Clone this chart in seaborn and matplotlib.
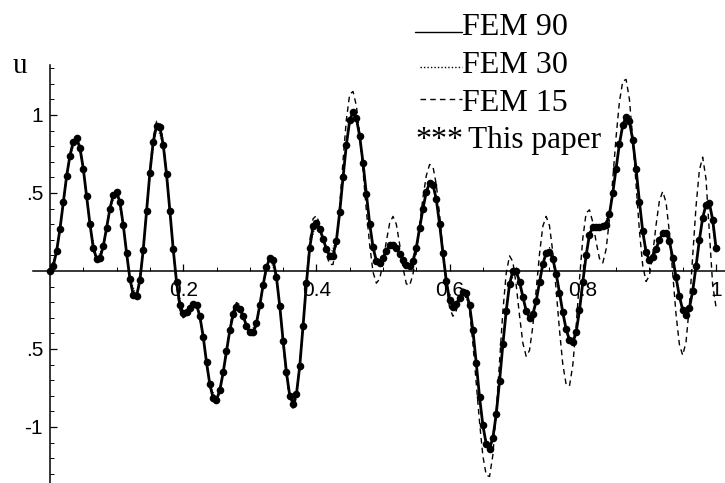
import numpy as np
import matplotlib
matplotlib.use("Agg")
import matplotlib.pyplot as plt
import seaborn as sns
from matplotlib.lines import Line2D
from matplotlib.ticker import FixedLocator, MultipleLocator

# x grids (step 0.005 for the fine solutions, 0.01 for FEM 30)
x_fine = np.round(np.arange(201) * 0.005, 3)
x_coarse = np.round(np.arange(101) * 0.01, 2)

# "This paper" (dots) - FEM 90 lies on top of it
this_paper = [
    0.0, 0.034, 0.13, 0.27, 0.44, 0.61, 0.74, 0.83, 0.85, 0.79,
    0.655, 0.48, 0.30, 0.15, 0.077, 0.083, 0.16, 0.277, 0.40, 0.487,
    0.508, 0.44, 0.295, 0.115, -0.05, -0.152, -0.16, -0.06, 0.137, 0.385,
    0.63, 0.83, 0.93, 0.92, 0.81, 0.62, 0.385, 0.14, -0.07, -0.22,
    -0.27, -0.26, -0.235, -0.214, -0.217, -0.29, -0.42, -0.585, -0.727, -0.815,
    -0.825, -0.766, -0.65, -0.516, -0.38, -0.278, -0.231, -0.243, -0.29, -0.35,
    -0.392, -0.394, -0.333, -0.22, -0.09, 0.023, 0.084, 0.07, -0.04, -0.225,
    -0.447, -0.65, -0.80, -0.85, -0.79, -0.61, -0.35, -0.08, 0.15, 0.287,
    0.307, 0.27, 0.207, 0.14, 0.098, 0.099, 0.195, 0.377, 0.60, 0.81,
    0.965, 1.02, 0.98, 0.864, 0.693, 0.495, 0.304, 0.152, 0.065, 0.053,
    0.083, 0.129, 0.164, 0.168, 0.148, 0.112, 0.072, 0.041, 0.03, 0.061,
    0.15, 0.274, 0.40, 0.507, 0.565, 0.554, 0.46, 0.30, 0.113, -0.062,
    -0.186, -0.23, -0.212, -0.171, -0.137, -0.138, -0.22, -0.38, -0.59, -0.81,
    -0.99, -1.11, -1.138, -1.07, -0.918, -0.706, -0.47, -0.256, -0.084, 0.002,
    -0.002, -0.068, -0.165, -0.255, -0.299, -0.277, -0.193, -0.072, 0.044, 0.117,
    0.125, 0.077, -0.018, -0.139, -0.266, -0.374, -0.442, -0.458, -0.393, -0.253,
    -0.072, 0.10, 0.233, 0.28, 0.285, 0.285, 0.29, 0.296, 0.364, 0.50,
    0.657, 0.815, 0.934, 0.989, 0.959, 0.84, 0.655, 0.445, 0.254, 0.119,
    0.07, 0.09, 0.142, 0.20, 0.243, 0.245, 0.19, 0.086, -0.041, -0.162,
    -0.249, -0.28, -0.24, -0.128, 0.03, 0.197, 0.341, 0.426, 0.435, 0.33,
    0.15,
]
fem90 = this_paper

fem15 = [
    0.0, 0.035, 0.13, 0.27, 0.44, 0.61, 0.745, 0.84, 0.86, 0.80,
    0.66, 0.48, 0.295, 0.14, 0.068, 0.075, 0.155, 0.277, 0.405, 0.495,
    0.518, 0.45, 0.30, 0.115, -0.055, -0.162, -0.17, -0.065, 0.137, 0.395,
    0.65, 0.855, 0.96, 0.95, 0.83, 0.63, 0.385, 0.13, -0.09, -0.25,
    -0.30, -0.285, -0.24, -0.205, -0.21, -0.285, -0.42, -0.59, -0.735, -0.825,
    -0.835, -0.772, -0.648, -0.505, -0.36, -0.255, -0.202, -0.217, -0.28, -0.355,
    -0.41, -0.414, -0.348, -0.228, -0.09, 0.03, 0.094, 0.078, -0.04, -0.235,
    -0.465, -0.675, -0.83, -0.88, -0.812, -0.62, -0.347, -0.058, 0.19, 0.335,
    0.355, 0.30, 0.205, 0.106, 0.042, 0.042, 0.175, 0.42, 0.71, 0.97,
    1.133, 1.151, 1.06, 0.878, 0.643, 0.387, 0.168, -0.006, -0.078, -0.051,
    0.053, 0.191, 0.306, 0.35, 0.30, 0.171, 0.021, -0.082, -0.093, -0.021,
    0.119, 0.295, 0.471, 0.611, 0.683, 0.67, 0.555, 0.362, 0.13, -0.084,
    -0.236, -0.29, -0.254, -0.175, -0.116, -0.131, -0.253, -0.467, -0.72, -0.971,
    -1.187, -1.309, -1.317, -1.178, -0.902, -0.581, -0.257, -0.014, 0.097, 0.06,
    -0.091, -0.286, -0.462, -0.547, -0.509, -0.353, -0.124, 0.11, 0.287, 0.35,
    0.29, 0.119, -0.123, -0.379, -0.599, -0.728, -0.737, -0.603, -0.353, -0.055,
    0.209, 0.372, 0.392, 0.313, 0.187, 0.08, 0.052, 0.139, 0.332, 0.59,
    0.86, 1.085, 1.217, 1.228, 1.101, 0.848, 0.554, 0.258, 0.035, -0.067,
    -0.031, 0.109, 0.295, 0.45, 0.51, 0.44, 0.248, -0.015, -0.278, -0.47,
    -0.54, -0.455, -0.223, 0.095, 0.413, 0.645, 0.73, 0.59, 0.25, -0.09,
    -0.23,
]

fem30 = [
    0.0, 0.13, 0.44, 0.74, 0.85, 0.655, 0.30, 0.075, 0.16, 0.40,
    0.51, 0.295, -0.05, -0.16, 0.137, 0.635, 0.935, 0.81, 0.385, -0.07,
    -0.275, -0.235, -0.215, -0.42, -0.73, -0.826, -0.65, -0.378, -0.228, -0.29,
    -0.395, -0.334, -0.09, 0.086, -0.04, -0.45, -0.80, -0.79, -0.35, 0.155,
    0.315, 0.205, 0.095, 0.195, 0.61, 0.98, 0.99, 0.69, 0.30, 0.06,
    0.085, 0.18, 0.16, 0.07, 0.025, 0.15, 0.41, 0.58, 0.47, 0.115,
    -0.19, -0.215, -0.135, -0.22, -0.60, -1.01, -1.16, -0.93, -0.47, -0.08,
    0.0, -0.18, -0.32, -0.20, 0.05, 0.15, -0.02, -0.28, -0.47, -0.39,
    -0.06, 0.25, 0.29, 0.28, 0.37, 0.67, 0.95, 0.97, 0.66, 0.25,
    0.06, 0.15, 0.26, 0.19, -0.05, -0.26, -0.25, 0.03, 0.35, 0.45,
    0.12,
]

x_ticks = [0.2, 0.4, 0.6, 0.8, 1.0]
x_tick_labels = ["0.2", "0.4", "0.6", "0.8", "1"]
y_ticks = [-1, -0.5, 0.5, 1]
y_tick_labels = ["-1", ".5", ".5", "1"]

sns.set_theme(style="white")
plt.rcParams["font.family"] = ["Liberation Sans", "DejaVu Sans"]
serif = ["Liberation Serif", "DejaVu Serif"]

W, H = 725, 483
fig = plt.figure(figsize=(W / 100, H / 100), dpi=100)
ax = fig.add_axes([33 / W, 0, 692 / W, 418 / H])
ax.set_facecolor("white")

sns.scatterplot(x=x_fine, y=this_paper, ax=ax, color="black", s=30,
                linewidth=0, zorder=3)
sns.lineplot(x=x_fine, y=fem90, ax=ax, color="black", lw=2.0, zorder=4)
sns.lineplot(x=x_coarse, y=fem30, ax=ax, color="black", lw=0.8,
             ls=(0, (1, 1.5)), zorder=4)
sns.lineplot(x=x_fine, y=fem15, ax=ax, color="black", lw=1.0,
             ls=(0, (4, 3)), zorder=5)

ax.set_xlim(-17 / 666, 675 / 666)
ax.set_ylim(-212 / 156, 206 / 156)

# Mathematica style axes through the origin
for s in ["top", "right"]:
    ax.spines[s].set_visible(False)
for s in ["left", "bottom"]:
    ax.spines[s].set_position(("data", 0))
    ax.spines[s].set_color("black")
    ax.spines[s].set_linewidth(1.1)

ax.xaxis.set_major_locator(FixedLocator(x_ticks))
ax.set_xticklabels(x_tick_labels)
ax.xaxis.set_minor_locator(MultipleLocator(0.05))
ax.yaxis.set_major_locator(FixedLocator(y_ticks))
ax.set_yticklabels(y_tick_labels)
ax.yaxis.set_minor_locator(MultipleLocator(0.1))

ax.tick_params(which="both", direction="in", bottom=True, left=True,
               color="black", labelcolor="black", labelsize=15)
ax.tick_params(which="major", length=5, width=0.9)
ax.tick_params(which="minor", length=3, width=0.7)
ax.tick_params(axis="x", pad=7)
ax.tick_params(axis="y", pad=5)
ax.grid(False)
ax.set_xlabel("")
ax.set_ylabel("")

fig.text(20 / W, 1 - 73 / H, "u", family=serif, fontsize=21,
         ha="center", va="baseline", color="black")

# legend drawn by hand at the top right
def fx(px):
    return px / W

def fy(py):
    return 1 - py / H

entries = [
    ("FEM 90", "-", 32, 35, 415),
    ("FEM 30", (0, (1, 1.5)), 67, 73, 420),
    ("FEM 15", (0, (4, 3)), 99, 111, 420),
]
for label, style, line_y, base_y, x0 in entries:
    fig.add_artist(Line2D([fx(x0), fx(462)], [fy(line_y), fy(line_y)],
                          transform=fig.transFigure, color="black",
                          lw=1.0, ls=style))
    fig.text(fx(462), fy(base_y), label, family=serif, fontsize=23,
             ha="left", va="baseline", color="black")
fig.text(fx(415), fy(148), "***", family=serif, fontsize=23,
         ha="left", va="baseline", color="black")
fig.text(fx(468), fy(148), "This paper", family=serif, fontsize=22.5,
         ha="left", va="baseline", color="black")

fig.savefig("out.png", dpi=100, facecolor="white")
